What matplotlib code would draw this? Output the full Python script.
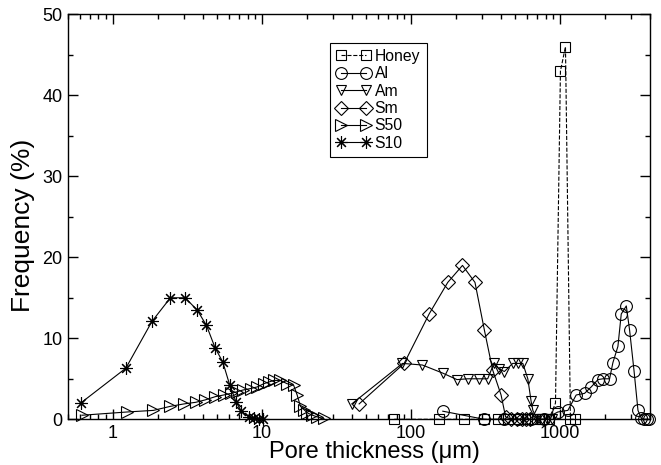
import matplotlib
matplotlib.use('Agg')
import matplotlib.pyplot as plt
from matplotlib.ticker import LogLocator, NullFormatter, MultipleLocator

plt.rcParams['font.family'] = ['Liberation Sans', 'DejaVu Sans']

# pore thickness (um) and frequency (%)
honey_x = [77, 154, 227, 309, 380, 445, 520, 600, 680, 760, 840, 929, 1003, 1084, 1170, 1260]
honey_y = [0, 0, 0, 0, 0, 0, 0, 0, 0, 0, 0, 2, 43, 46, 0, 0]

al_x = [163, 309, 420, 520, 640, 780, 963, 1125, 1279, 1455, 1614, 1790, 1933, 2142,
        2255, 2436, 2565, 2773, 2918, 3124, 3321, 3500, 3650, 3800, 3950]
al_y = [1.0, 0, 0, 0, 0, 0, 0.9, 1.1, 3.0, 3.2, 4.0, 4.9, 5.0, 5.0,
        7.0, 9.0, 13.0, 14.0, 11.0, 6.0, 1.1, 0.1, 0, 0, 0]

am_x = [40, 87.5, 119, 163, 203, 239, 286, 326, 361, 390, 422, 480, 519, 561,
        606, 638, 655, 700, 760, 820, 880]
am_y = [1.9, 6.9, 6.7, 5.7, 4.9, 5.0, 5.0, 5.0, 7.0, 6.2, 5.9, 6.9, 6.9, 6.9,
        5.0, 2.2, 1.1, 0, 0, 0, 0]

sm_x = [44.8, 89.8, 132, 176, 221, 268, 310, 352, 401, 430, 470, 510, 550, 590, 630]
sm_y = [1.9, 6.9, 13.0, 16.9, 19.0, 16.9, 11.0, 6.1, 3.0, 0.3, 0, 0, 0, 0, 0]

s50_x = [0.62, 1.24, 1.87, 2.43, 3.0, 3.6, 4.17, 4.87, 5.53, 6.2, 6.8, 7.4, 8.4, 9.3,
         10.3, 11.1, 12.0, 13.3, 14.7, 16.3, 17.2, 18.1, 19.1, 20.1, 21.8, 23.4, 26.0]
s50_y = [0.5, 0.9, 1.1, 1.6, 1.9, 2.1, 2.4, 2.8, 3.0, 3.2, 3.4, 3.6, 3.8, 4.0,
         4.4, 4.6, 4.8, 4.8, 4.4, 4.2, 3.0, 1.6, 1.2, 0.8, 0.5, 0.3, 0.1]

s10_x = [0.608, 1.22, 1.83, 2.43, 3.05, 3.67, 4.24, 4.85, 5.45, 6.08, 6.71, 7.28,
         8.15, 8.8, 9.5, 10.2]
s10_y = [2.0, 6.3, 12.1, 15.0, 15.0, 13.5, 11.6, 8.8, 7.1, 4.2, 2.1, 1.0,
         0.3, 0.1, 0.0, 0.0]

series = [
    ('Honey', honey_x, honey_y, 's', '--'),
    ('Al', al_x, al_y, 'o', '-'),
    ('Am', am_x, am_y, 'v', '-'),
    ('Sm', sm_x, sm_y, 'D', '-'),
    ('S50', s50_x, s50_y, '>', '-'),
    ('S10', s10_x, s10_y, (8, 2, 0), '-'),
]
msizes = {'s': 7, 'o': 8.5, 'v': 7, 'D': 7, '>': 8}

fig = plt.figure(figsize=(6.61, 4.65), dpi=100)
ax = fig.add_axes([0.1029, 0.0983, 0.8805, 0.8709])

for name, xs, ys, mk, ls in series:
    ms = msizes.get(mk, 9) if isinstance(mk, str) else 9
    ax.plot(xs, ys, ls=ls, lw=0.8, color='black', marker=mk, ms=ms,
            mfc='none', mec='black', mew=0.8, label=name, clip_on=False)

ax.set_xscale('log')
ax.set_xlim(0.5, 4000)
ax.set_ylim(0, 50)
ax.set_xticks([1, 10, 100, 1000])
ax.set_xticklabels(['1', '10', '100', '1000'])
ax.xaxis.set_minor_locator(LogLocator(base=10, subs=range(2, 10), numticks=20))
ax.xaxis.set_minor_formatter(NullFormatter())
ax.yaxis.set_major_locator(MultipleLocator(10))
ax.yaxis.set_minor_locator(MultipleLocator(5))

ax.tick_params(which='both', direction='in', top=True, right=True, labelsize=13, width=1)
ax.tick_params(which='major', length=7, pad=4)
ax.tick_params(which='minor', length=3.5)
for sp in ax.spines.values():
    sp.set_linewidth(1)

ax.set_xlabel('Pore thickness (μm)', fontsize=17)
ax.xaxis.set_label_coords(0.527, -0.054, transform=ax.transAxes)
ax.xaxis.label.set_va('top')
ax.set_ylabel('Frequency (%)', fontsize=19)
ax.yaxis.set_label_coords(-0.056, 0.48, transform=ax.transAxes)

leg = ax.legend(loc='upper left', bbox_to_anchor=(330 / 661, 1 - 42.7 / 465),
                bbox_transform=fig.transFigure, borderaxespad=0, numpoints=2,
                handlelength=2.2, handletextpad=0.25, labelspacing=0.15,
                borderpad=0.4, fontsize=11.3, fancybox=False, framealpha=1)
leg.get_frame().set_edgecolor('black')
leg.get_frame().set_linewidth(0.8)

fig.savefig('out.png', dpi=100)
